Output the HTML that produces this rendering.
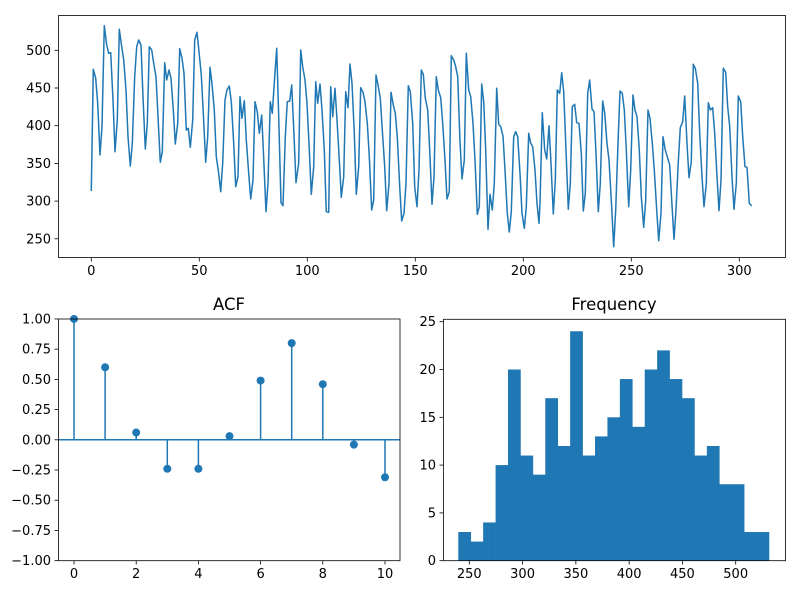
<!DOCTYPE html>
<html><head><meta charset="utf-8"><style>
html,body{margin:0;padding:0;background:#fff}
svg{display:block}
text{font-family:"DejaVu Sans","Liberation Sans",sans-serif;fill:#000}
</style></head><body>
<svg id="s" width="800" height="600" xmlns="http://www.w3.org/2000/svg">
<rect width="800" height="600" fill="#fff"/>
<g id="top"></g>
<g id="acf"></g>
<g id="hist"></g>
</svg>
<script>
const NS="http://www.w3.org/2000/svg";
function el(p,t,a,txt){const e=document.createElementNS(NS,t);for(const k in a)e.setAttribute(k,a[k]);if(txt!==undefined)e.textContent=txt;p.appendChild(e);return e;}
const C="#1f77b4";
// TOP
const T=document.getElementById('top');
const z1=[[124,543],[130,178],[137,205],[143,280],[150,435],[156,350],[163,47],[170,105],[176,130],[182,128],[189,270],[195,425],[202,330],[208,58],[215,110],[221,150],[228,240],[234,380],[241,468],[247,400],[254,200],[260,110],[266,90],[273,105],[279,260],[286,417],[292,340],[298,110],[305,120],[311,160],[318,200],[324,320],[331,457],[337,425],[344,158],[350,210],[357,180],[363,205],[370,300],[376,402],[383,340],[389,116],[396,145],[402,190],[409,360],[415,355],[421,412],[428,330],[434,90],[441,67],[447,125],[454,195],[460,310],[467,457],[473,380],[480,172],[486,222],[493,300],[499,440],[506,490],[512,545],[518,460],[525,270],[531,240],[538,228],[544,275],[551,400],[557,530],[564,500],[570,260],[576,325],[583,272],[589,390],[596,490],[602,567],[609,510],[615,275],[622,305],[628,370],[635,315],[641,445],[648,605],[654,520],[661,275],[667,310],[674,200],[680,115],[686,320],[693,578],[699,587],[706,380],[712,275],[719,273],[725,225],[732,375],[738,518]];
const z2=[[26,460],[32,120],[38,170],[45,210],[51,280],[58,420],[64,553],[71,470],[77,215],[83,280],[90,222],[96,300],[103,420],[109,605],[116,607],[122,230],[128,320],[135,235],[141,330],[148,450],[154,562],[161,500],[167,245],[174,293],[180,162],[186,220],[193,370],[199,553],[206,470],[212,233],[219,247],[225,275],[232,340],[238,440],[245,600],[251,570],[258,195],[264,225],[271,265],[277,360],[284,470],[290,602],[297,520],[303,247],[310,285],[316,310],[322,380],[329,530],[335,633],[342,610],[348,520],[355,227],[361,245],[368,340],[374,530],[381,590],[387,480],[394,180],[400,193],[406,265],[413,300],[419,420],[426,583],[432,500],[439,200],[445,240],[452,263],[458,340],[465,450],[471,567],[478,545],[484,137],[491,150],[497,170],[503,200],[510,395],[516,507],[523,450],[529,130],[536,240],[542,260],[549,340],[555,450],[562,613],[568,590],[575,222],[581,275],[587,420],[594,658],[600,553],[607,600],[613,520],[620,235],[626,343],[632,350],[639,378],[645,480],[652,610],[658,666],[664,605],[671,380],[677,365],[683,380],[690,490],[696,610],[703,655],[709,590],[716,370],[722,400],[728,410],[735,480],[741,580],[747,640]];
const z3=[[30,580],[37,308],[44,420],[50,447],[57,347],[63,460],[70,612],[76,510],[82,240],[89,250],[95,188],[101,245],[108,420],[115,598],[121,520],[127,290],[134,283],[140,338],[147,340],[154,430],[160,603],[166,550],[173,250],[179,210],[186,297],[192,305],[198,430],[205,605],[211,520],[218,273],[224,310],[231,400],[237,450],[244,570],[251,710],[257,600],[264,400],[270,243],[277,250],[283,300],[289,420],[296,590],[302,480],[309,255],[315,300],[321,320],[328,420],[334,560],[341,652],[347,570],[354,300],[360,325],[367,400],[373,480],[380,600],[386,692],[393,610],[399,380],[406,420],[412,440],[419,465],[425,570],[432,688],[438,600],[445,455],[451,353],[458,335],[464,258],[471,400],[477,503],[484,455],[490,163],[496,175],[503,220],[509,370],[516,500],[522,590],[529,520],[535,278],[541,300],[548,293],[554,370],[561,500],[567,602],[573,510],[580,175],[587,187],[593,290],[599,350],[606,500],[612,598],[619,520],[625,258],[632,275],[638,380],[645,470],[651,472],[658,580],[665,588]];
let pts=[];
z1.forEach(p=>pts.push([50+p[0]/3,10+p[1]/3]));
z2.forEach(p=>pts.push([290+p[0]/3,10+p[1]/3]));
z3.forEach(p=>pts.push([530+p[0]/3,10+p[1]/3]));
el(T,'polyline',{points:pts.map(p=>p[0].toFixed(1)+','+p[1].toFixed(1)).join(' '),fill:'none',stroke:C,'stroke-width':1.5,'stroke-linejoin':'round'});
el(T,'rect',{x:58.5,y:15.5,width:727,height:242,fill:'none',stroke:'#000','stroke-width':0.8});
[0,50,100,150,200,250,300].forEach(v=>{const x=91.3+v*2.16;el(T,'line',{x1:x,y1:258,x2:x,y2:261.5,stroke:'#000','stroke-width':0.8});el(T,'text',{x:x,y:275,'font-size':13,'text-anchor':'middle'},v);});
[250,300,350,400,450,500].forEach(v=>{const y=50.3+(500-v)*0.754;el(T,'line',{x1:54.5,y1:y,x2:58,y2:y,stroke:'#000','stroke-width':0.8});el(T,'text',{x:51,y:y+4.5,'font-size':13,'text-anchor':'end'},v);});
// ACF
const A=document.getElementById('acf');
const vals=[1,0.60,0.06,-0.24,-0.24,0.03,0.49,0.80,0.46,-0.04,-0.31];
const ay=v=>439.8-v*120.85, ax=l=>74+l*31.1;
el(A,'line',{x1:58,y1:439.8,x2:400,y2:439.8,stroke:C,'stroke-width':1.5});
vals.forEach((v,i)=>{el(A,'line',{x1:ax(i),y1:439.8,x2:ax(i),y2:ay(v),stroke:C,'stroke-width':1.5});el(A,'circle',{cx:ax(i),cy:ay(v),r:4,fill:C});});
el(A,'rect',{x:58.5,y:319,width:341.5,height:241.7,fill:'none',stroke:'#000','stroke-width':0.8});
[1,0.75,0.5,0.25,0,-0.25,-0.5,-0.75,-1].forEach(v=>{const y=ay(v);el(A,'line',{x1:54.5,y1:y,x2:58,y2:y,stroke:'#000','stroke-width':0.8});el(A,'text',{x:51,y:y+4.5,'font-size':13,'text-anchor':'end'},(v<0?'\u2212':'')+Math.abs(v).toFixed(2));});
[0,2,4,6,8,10].forEach(l=>{const x=ax(l);el(A,'line',{x1:x,y1:561,x2:x,y2:564.5,stroke:'#000','stroke-width':0.8});el(A,'text',{x:x,y:578,'font-size':13,'text-anchor':'middle'},l);});
el(A,'text',{x:229,y:310,'font-size':16.5,'text-anchor':'middle'},'ACF');
// HIST
const H=document.getElementById('hist');
const h=[3,2,4,10,20,11,9,17,12,24,11,13,15,19,14,20,22,19,17,11,12,8,8,3,3];
const hy=v=>560.7-v*9.56, bw=(769-458.3)/25;
h.forEach((v,i)=>el(H,'rect',{x:458.3+i*bw,y:hy(v),width:bw+0.3,height:v*9.56,fill:C}));
el(H,'rect',{x:443.5,y:319.3,width:342,height:241.4,fill:'none',stroke:'#000','stroke-width':0.8});
[0,5,10,15,20,25].forEach(v=>{const y=hy(v);el(H,'line',{x1:439.5,y1:y,x2:443,y2:y,stroke:'#000','stroke-width':0.8});el(H,'text',{x:436,y:y+4.5,'font-size':13,'text-anchor':'end'},v);});
[250,300,350,400,450,500].forEach(v=>{const x=469.3+(v-250)*1.0656;el(H,'line',{x1:x,y1:561,x2:x,y2:564.5,stroke:'#000','stroke-width':0.8});el(H,'text',{x:x,y:578,'font-size':13,'text-anchor':'middle'},v);});
el(H,'text',{x:614,y:310,'font-size':16.5,'text-anchor':'middle'},'Frequency');
</script>
</body></html>
